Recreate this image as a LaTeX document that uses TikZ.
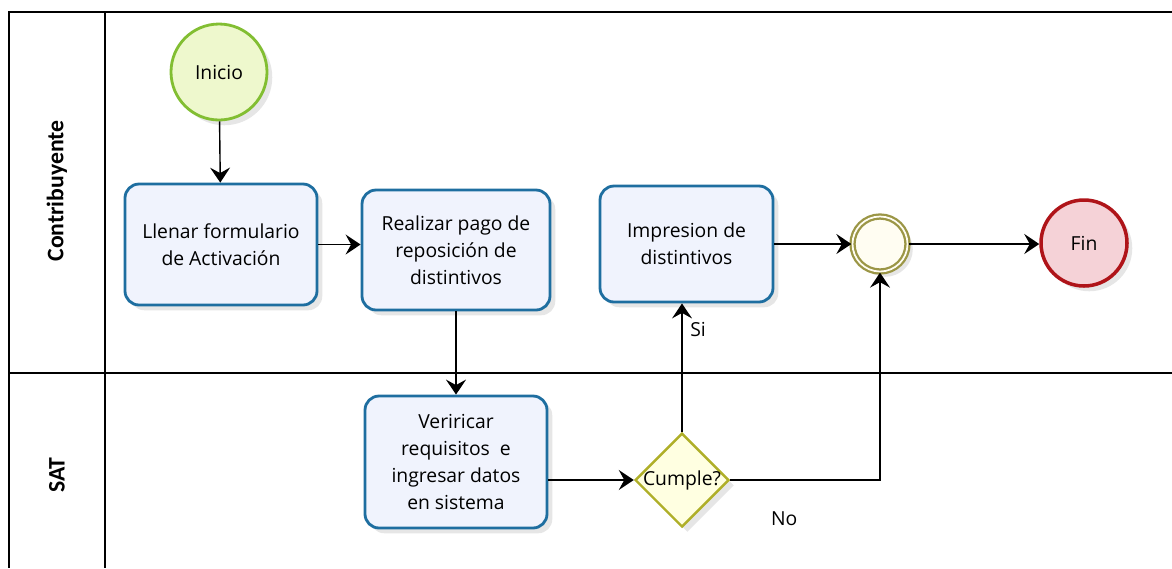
\documentclass[tikz,border=0pt]{standalone}
\usepackage{fontspec}
\setmainfont{Open Sans}
\newfontfamily\lanefont{Carlito}
\usepackage{tikz}
\usetikzlibrary{shapes,positioning,calc}
\usetikzlibrary{shapes.geometric, arrows}
\usetikzlibrary{arrows.meta,shadows}
\definecolor{bordetarea}{RGB}{30,110,160}
\definecolor{fondotarea}{RGB}{240,243,253}
\definecolor{bordeinicio}{RGB}{130,190,50}
\definecolor{fondoinicio}{RGB}{238,248,205}
\definecolor{bordefin}{RGB}{175,20,25}
\definecolor{fondofin}{RGB}{245,210,215}
\definecolor{bordeunion}{RGB}{155,150,70}
\definecolor{fondounion}{RGB}{255,253,242}
\definecolor{bordedecision}{RGB}{175,175,40}
\definecolor{fondodecision}{RGB}{255,255,225}
\tikzstyle{sombra} = [drop shadow={opacity=0.2, shadow xshift=3pt, shadow yshift=-3pt}]
\tikzstyle{texto} = [font=\fontsize{11}{15.4}\selectfont]
\tikzstyle{tarea} = [rectangle, rounded corners=8pt, line width=1.6pt, draw=bordetarea, fill=fondotarea, sombra, align=center, texto]
\tikzstyle{inicio} = [circle, line width=1.6pt, draw=bordeinicio, fill=fondoinicio, minimum size=1.92cm, sombra, texto]
\tikzstyle{fin} = [circle, line width=2pt, draw=bordefin, fill=fondofin, minimum size=1.72cm, sombra, texto]
\tikzstyle{union} = [circle, line width=1.3pt, draw=bordeunion, double=fondounion, double distance=1pt, fill=fondounion, minimum size=1.1cm, sombra]
\tikzstyle{decision} = [diamond, line width=1.4pt, draw=bordedecision, fill=fondodecision, minimum width=1.88cm, minimum height=1.88cm, inner sep=0pt, sombra, texto]
\tikzstyle{carril} = [font=\lanefont\bfseries\fontsize{13.5}{15}\selectfont, rotate=90]
\tikzstyle{arrow} = [line width=0.8pt,-{Stealth[length=3mm,width=4mm,inset=1.1mm]}]

\begin{document}
\begin{tikzpicture}
						\useasboundingbox (0,0) rectangle (23.44,-11.36);
						\draw[line width=0.8pt] (23.44,-0.24) -- (0.18,-0.24) -- (0.18,-11.36);
						\draw[line width=0.8pt] (2.1,-0.24) -- (2.1,-11.36);
						\draw[line width=1.6pt] (0.18,-7.46) -- (23.44,-7.46);
						\node (contrib) at (1.14,-3.82) [carril] {Contribuyente};
						\node (sat) at (1.14,-9.5) [carril] {SAT};
						\node (ini) at (4.38,-1.44) [inicio] {Inicio};
						\node (llenar) at (4.42,-4.89) [tarea, minimum width=3.84cm, minimum height=2.42cm] {Llenar formulario\\de Activación};
						\node (pago) at (9.12,-5.0) [tarea, minimum width=3.76cm, minimum height=2.4cm] {Realizar pago de\\reposición de\\distintivos};
						\node (impr) at (13.73,-4.88) [tarea, minimum width=3.46cm, minimum height=2.32cm] {Impresion de\\distintivos};
						\node (union) at (17.6,-4.88) [union] {};
						\node (fin) at (21.68,-4.86) [fin] {Fin};
						\node (verif) at (9.12,-9.24) [tarea, minimum width=3.64cm, minimum height=2.64cm] {Veriricar\\requisitos\ \ e\\ingresar datos\\en sistema};
						\node (cumple) at (13.64,-9.6) [decision] {\makebox[0pt]{Cumple?}};
						\draw[arrow] (ini) -- (llenar);
						\draw[arrow] (llenar.east) -- (llenar.east -| pago.west);
						\draw[arrow] (pago) -- (verif);
						\draw[arrow] (verif.east |- cumple.west) -- (cumple.west);
						\draw[arrow] (cumple.north) -- (cumple.north |- impr.south) node[pos=0.8,right=1pt,texto] {Si};
						\draw[arrow] (cumple.east) -| (union.south) node[pos=0.18,below=0.5cm,texto] {No};
						\draw[arrow] (impr.east) -- (union.west);
						\draw[arrow] (union.east) -- (union.east -| fin.west);
					\end{tikzpicture}
\end{document}
